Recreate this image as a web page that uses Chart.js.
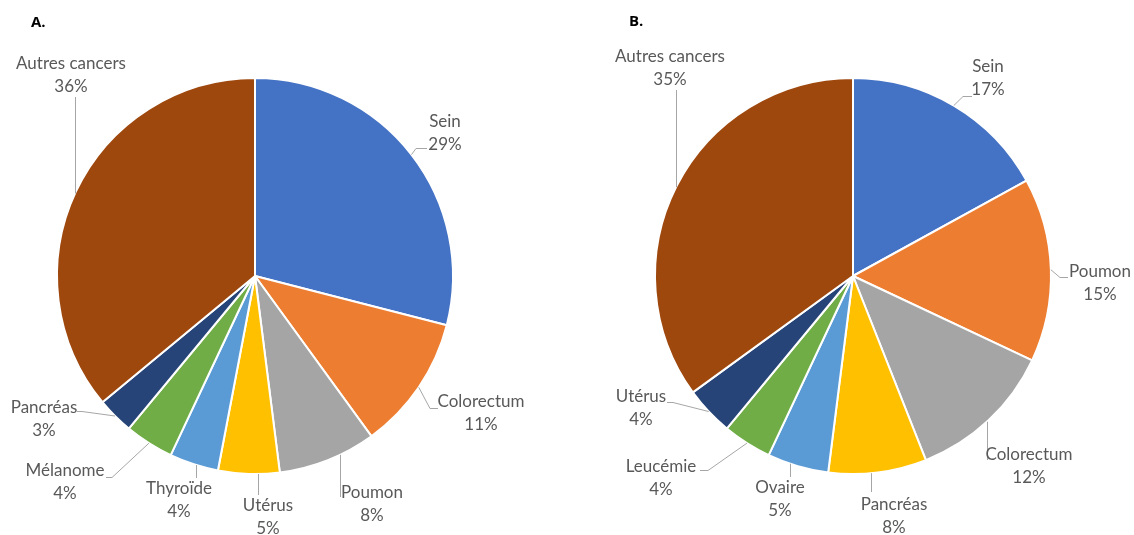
<!DOCTYPE html>
<html lang="fr">
<head>
<meta charset="utf-8">
<title>Répartition des cancers</title>
<script src="https://cdn.jsdelivr.net/npm/chart.js@4.4.1/dist/chart.umd.min.js"></script>
<style>
  html, body { margin: 0; padding: 0; background: #ffffff; }
  #wrap { position: relative; width: 1134px; height: 535px; overflow: hidden; }
  #wrap canvas { position: absolute; left: 0; top: 0; }
  .panel-title { position: absolute; font: bold 15px "Open Sans", Lato, sans-serif; color: #000; line-height: 18px; }
</style>
</head>
<body>
<div id="wrap">
  <canvas id="pieA" width="1134" height="535"></canvas>
  <canvas id="pieB" width="1134" height="535"></canvas>
  <div class="panel-title" style="left:31px; top:12px;">A.</div>
  <div class="panel-title" style="left:629px; top:11px;">B.</div>
</div>
<script>
// Panel A
const categoriesA = ['Sein', 'Colorectum', 'Poumon', 'Utérus', 'Thyroïde', 'Mélanome', 'Pancréas', 'Autres cancers'];
const valuesA = [29, 11, 8, 5, 4, 4, 3, 36];

// Panel B
const categoriesB = ['Sein', 'Poumon', 'Colorectum', 'Pancréas', 'Ovaire', 'Leucémie', 'Utérus', 'Autres cancers'];
const valuesB = [17, 15, 12, 8, 5, 4, 4, 35];

// Slice colours, in drawing order
const sliceColors = ['#4472C4', '#ED7D31', '#A5A5A5', '#FFC000', '#5B9BD5', '#70AD47', '#264478', '#9E480E'];

// Label placement: (x, y) = centre of the name line; leader either runs
// vertically from the pie edge at x down/up to `end`, or from the slice
// mid-point through the listed points.
const labelLayoutA = [
  { x: 445, y: 122, leader: { pts: [[416, 148], [427, 148]] } },
  { x: 481, y: 402, leader: { pts: [[430, 408], [438, 408]] } },
  { x: 372, y: 493, leader: { vx: 340, end: 497 } },
  { x: 268, y: 506, leader: { vx: 258, end: 495 } },
  { x: 179, y: 489, leader: { vx: 196, end: 478 } },
  { x: 65,  y: 471, leader: { pts: [[112, 477], [106, 477]] } },
  { x: 44,  y: 408, leader: { pts: [[82, 411], [77, 411]] } },
  { x: 71,  y: 64,  leader: { vx: 75, end: 97 } }
];
const labelLayoutB = [
  { x: 988,  y: 67,  leader: { pts: [[963, 96], [972, 96]] } },
  { x: 1100, y: 272, leader: { pts: [[1060, 277], [1068, 277]] } },
  { x: 1029, y: 455, leader: { vx: 987, end: 460 } },
  { x: 894,  y: 505, leader: { vx: 871, end: 492 } },
  { x: 780,  y: 488, leader: { vx: 790, end: 477 } },
  { x: 661,  y: 467, leader: { pts: [[708, 470], [700, 470]] } },
  { x: 641,  y: 397, leader: { pts: [[673, 402], [667, 402]] } },
  { x: 670,  y: 57,  leader: { vx: 676, end: 90 } }
];

const LABEL_FONT = '17px Lato, "Open Sans", sans-serif';
const LABEL_COLOR = '#595959';
const LEADER_COLOR = '#A6A6A6';
const LINE_GAP = 22.5;

// Draws category name + percentage beside each slice, joined by a leader line
const outsideLabels = {
  id: 'outsideLabels',
  afterDatasetsDraw(chart, args, opts) {
    const ctx = chart.ctx;
    const meta = chart.getDatasetMeta(0);
    const values = chart.data.datasets[0].data;
    const total = values.reduce((a, b) => a + b, 0);
    const layout = opts.layout;
    ctx.save();
    meta.data.forEach((arc, i) => {
      const lay = layout[i];
      const { x: cx, y: cy, startAngle, endAngle, outerRadius: r } = arc.getProps(['x', 'y', 'startAngle', 'endAngle', 'outerRadius'], true);
      // leader line
      ctx.beginPath();
      ctx.strokeStyle = LEADER_COLOR;
      ctx.lineWidth = 1;
      const L = lay.leader;
      if (L.vx !== undefined) {
        const dx = L.vx - cx;
        const dy = Math.sqrt(Math.max(r * r - dx * dx, 0));
        const edgeY = L.end > cy ? cy + dy : cy - dy;
        ctx.moveTo(L.vx + 0.5, edgeY);
        ctx.lineTo(L.vx + 0.5, L.end);
      } else {
        const mid = (startAngle + endAngle) / 2;
        ctx.moveTo(cx + Math.cos(mid) * r, cy + Math.sin(mid) * r);
        L.pts.forEach(p => ctx.lineTo(p[0], p[1] + 0.5));
      }
      ctx.stroke();
      // label text
      ctx.fillStyle = LABEL_COLOR;
      ctx.font = LABEL_FONT;
      ctx.textAlign = 'center';
      ctx.textBaseline = 'middle';
      const pct = Math.round(values[i] / total * 100) + '%';
      ctx.fillText(chart.data.labels[i], lay.x, lay.y);
      ctx.fillText(pct, lay.x, lay.y + LINE_GAP);
    });
    ctx.restore();
  }
};

function makePie(canvasId, labels, values, layout, padding) {
  return new Chart(document.getElementById(canvasId), {
    type: 'pie',
    data: {
      labels: labels,
      datasets: [{
        data: values,
        backgroundColor: sliceColors,
        borderColor: '#ffffff',
        borderWidth: 2
      }]
    },
    options: {
      responsive: false,
      animation: false,
      devicePixelRatio: 1,
      layout: { padding: padding },
      plugins: {
        legend: { display: false },
        tooltip: { enabled: false },
        outsideLabels: { layout: layout }
      }
    },
    plugins: [outsideLabels]
  });
}

makePie('pieA', categoriesA, valuesA, labelLayoutA, { left: 56, right: 680, top: 77, bottom: 60 });
makePie('pieB', categoriesB, valuesB, labelLayoutB, { left: 654, right: 82, top: 77, bottom: 60 });
</script>
</body>
</html>
